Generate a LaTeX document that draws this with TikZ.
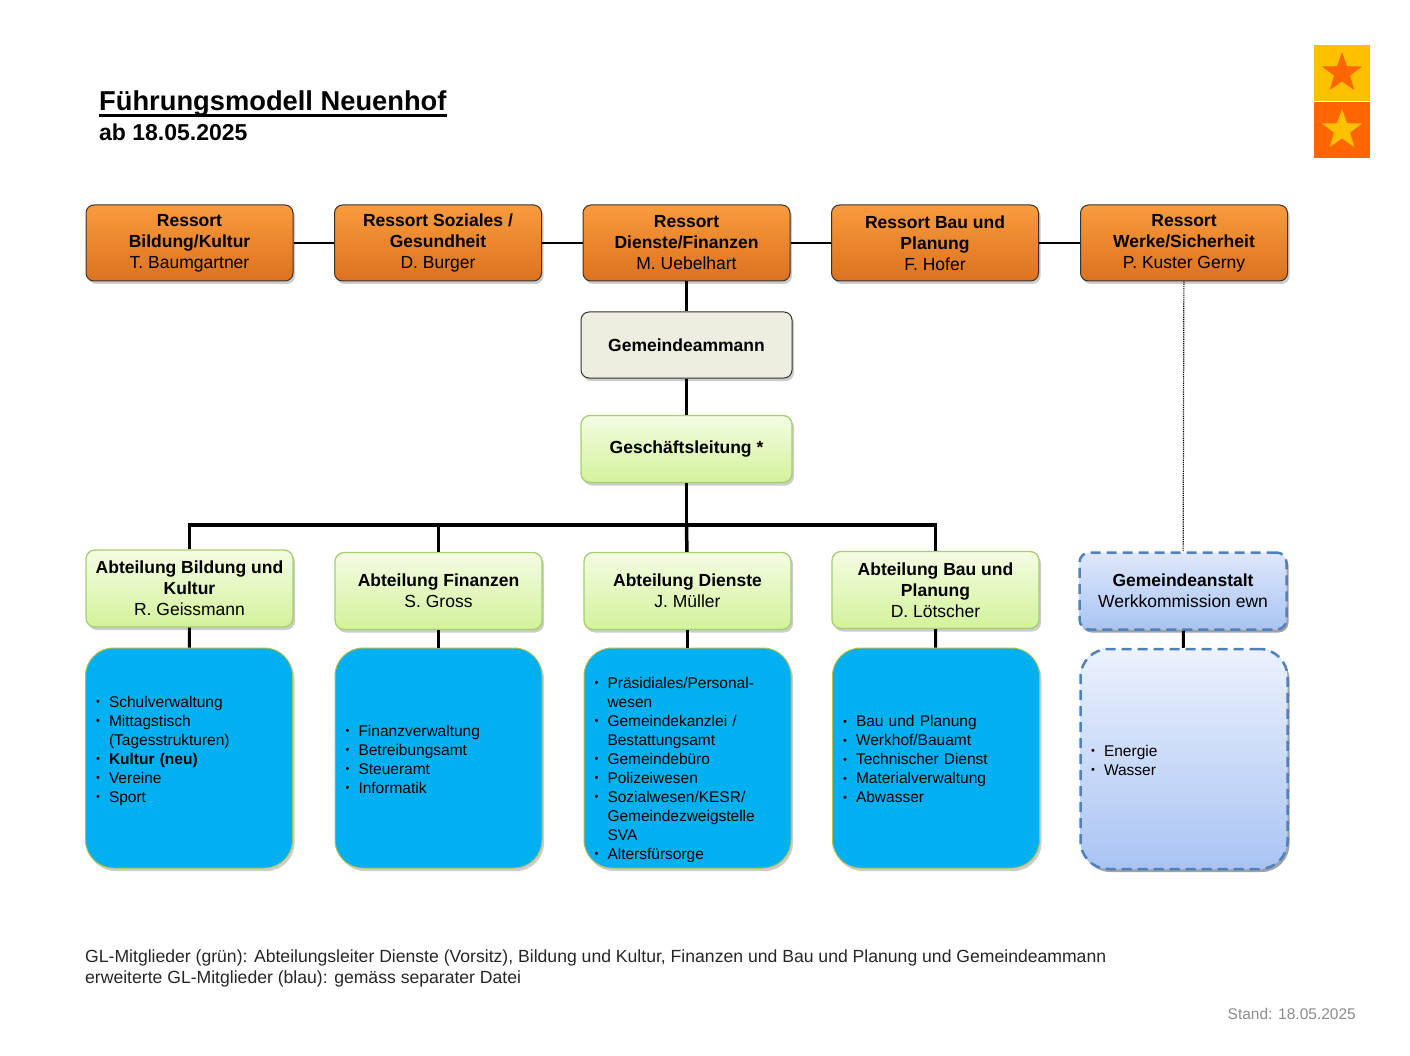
\documentclass[tikz,border=0pt]{standalone}
\usepackage{fontspec}
\setmainfont{Liberation Sans}
\usetikzlibrary{shapes.geometric,shadows}

\definecolor{orangetop}{HTML}{F99B3C}
\definecolor{orangebot}{HTML}{DB7220}
\definecolor{greentop}{HTML}{F4FCE3}
\definecolor{greenbot}{HTML}{D3F29A}
\definecolor{greenline}{HTML}{A3CF6F}
\definecolor{cyanfill}{HTML}{00B0F0}
\definecolor{cyanline}{HTML}{AEBF55}
\definecolor{ewntop}{HTML}{DFE8FB}
\definecolor{ewnbot}{HTML}{A9C4F3}
\definecolor{ewnline}{HTML}{4F81BD}
\definecolor{ammannfill}{HTML}{EDEEE0}
\definecolor{logoyellow}{HTML}{FFC000}
\definecolor{logoorange}{HTML}{FF6600}

\newenvironment{aufgaben}{%
  \begin{list}{\raisebox{1.5pt}{\fontsize{11}{11}\selectfont\textbullet}}{%
    \setlength{\leftmargin}{15pt}\setlength{\labelsep}{9pt}\setlength{\labelwidth}{6pt}%
    \setlength{\itemsep}{0pt}\setlength{\parsep}{0pt}\setlength{\topsep}{0pt}%
    \setlength{\partopsep}{0pt}}}{\end{list}\vspace*{5pt}\hrule height 0pt}
\newcommand{\luft}[1]{\vspace*{#1}\hrule height 0pt}

\tikzset{
  fuehrung/.style={
    every node/.style={font=\fontsize{17.5}{21}\selectfont, align=center},
    box shadow/.style={drop shadow={shadow xshift=2pt, shadow yshift=-3pt, opacity=0.2, fill=black}},
    ressort/.style={
        rounded corners=8pt,
        draw=black!80,
        line width=1pt,
        top color=orangetop,
        bottom color=orangebot,
        minimum width=207pt,
        minimum height=76pt,
        inner sep=2pt,
        box shadow,
    },
    abteilung/.style={
        rounded corners=9pt,
        draw=greenline,
        line width=1.3pt,
        top color=greentop,
        bottom color=greenbot,
        minimum width=207pt,
        minimum height=77pt,
        inner sep=2pt,
        box shadow,
    },
    aufgabe/.style={
        rounded corners=28pt,
        draw=cyanline,
        line width=1pt,
        fill=cyanfill,
        minimum width=207pt,
        minimum height=220pt,
        text width=190pt,
        inner xsep=8pt,
        align=left,
        font=\fontsize{15.5}{19}\selectfont,
        box shadow,
    },
    ewn/.style={
        draw=ewnline,
        line width=2.5pt,
        dash pattern=on 10pt off 6pt,
        top color=ewntop,
        bottom color=ewnbot,
        box shadow,
    },
    link/.style={line width=2pt},
    bus/.style={line width=3.5pt}
  }
}

\begin{document}
\begin{tikzpicture}[x=1pt, y=-1pt, fuehrung]
            \useasboundingbox (0,0) rectangle (1410,1056);
            \tikzstyle{logo}=[rectangle, minimum size=56pt, inner sep=0pt]
            \tikzstyle{stern}=[star, star points=5, star point ratio=2.5, minimum size=42pt, inner sep=0pt]

            \node[anchor=base west, inner sep=0pt, font=\fontsize{27.3}{32}\bfseries\selectfont] (titel) at (99,111) {Führungsmodell Neuenhof};
            \node[anchor=base west, inner sep=0pt, font=\fontsize{23}{28}\bfseries\selectfont] (datum) at (99,141) {ab 18.05.2025};
            \draw[line width=2.3pt] ([yshift=-4.5pt]titel.base west) -- ([yshift=-4.5pt]titel.base east);

            \node[logo, fill=logoyellow] (L_1) at (1342,73) {};
            \node[logo, fill=logoorange] (L_2) at (1342,130) {};
            \node[stern, fill=logoorange] (S_1) at (L_1) {};
            \node[stern, fill=logoyellow] (S_2) at (L_2) {};

            \node[ressort] (R_1) at (189.5,243) {\textbf{Ressort}\\\textbf{Bildung/Kultur}\\T. Baumgartner};
            \node[ressort] (R_2) at (438,243) {\textbf{Ressort Soziales /}\\\textbf{Gesundheit}\\D. Burger};
            \node[ressort] (R_3) at (686.5,243) {\textbf{Ressort}\\\textbf{Dienste/Finanzen}\\M. Uebelhart};
            \node[ressort] (R_4) at (935,243) {\textbf{Ressort Bau und}\\\textbf{Planung}\\F. Hofer};
            \node[ressort] (R_5) at (1184,243) {\textbf{Ressort}\\\textbf{Werke/Sicherheit}\\P. Kuster Gerny};

            \node[rounded corners=8pt, draw=black!80, line width=1pt, fill=ammannfill, minimum width=211pt, minimum height=66pt, box shadow] (GA) at (686.5,345) {\textbf{Gemeindeammann}};
            \node[abteilung, minimum width=211pt, minimum height=67pt] (GL) at (686.5,449) {\textbf{Geschäftsleitung *}};
            \coordinate (bus) at (686.5,525);

            \node[abteilung] (A_1) at (189.5,588.5) {\textbf{Abteilung Bildung und}\\\textbf{Kultur}\\R. Geissmann};
            \node[abteilung] (A_2) at (438.5,591) {\textbf{Abteilung Finanzen}\\S. Gross};
            \node[abteilung] (A_3) at (687.5,591) {\textbf{Abteilung Dienste}\\J. Müller};
            \node[abteilung] (A_4) at (935.5,590) {\textbf{Abteilung Bau und}\\\textbf{Planung}\\D. Lötscher};
            \node[abteilung, ewn, rounded corners=10pt] (A_5) at (1183,591) {\textbf{Gemeindeanstalt}\\Werkkommission ewn};

            \node[aufgabe] (B_1) at (189,758) {\begin{aufgaben}
                \item Schulverwaltung
                \item Mittagstisch\\(Tagesstrukturen)
                \item \textbf{Kultur (neu)}
                \item Vereine
                \item Sport
              \end{aufgaben}\luft{17pt}};
            \node[aufgabe] (B_2) at (438.5,758) {\begin{aufgaben}
                \item Finanzverwaltung
                \item Betreibungsamt
                \item Steueramt
                \item Informatik
              \end{aufgaben}};
            \node[aufgabe] (B_3) at (687.5,758) {\begin{aufgaben}
                \item Präsidiales/Personal-\\wesen
                \item Gemeindekanzlei /\\Bestattungsamt
                \item Gemeindebüro
                \item Polizeiwesen
                \item Sozialwesen/KESR/\\Gemeindezweigstelle\\SVA
                \item Altersfürsorge
              \end{aufgaben}\luft{-21pt}};
            \node[aufgabe] (B_4) at (936,758) {\begin{aufgaben}
                \item Bau und Planung
                \item Werkhof/Bauamt
                \item Technischer Dienst
                \item Materialverwaltung
                \item Abwasser
              \end{aufgaben}};
            \node[aufgabe, ewn, top color=ewntop!60, rounded corners=28pt] (B_5) at (1184,759) {\begin{aufgaben}
                \item Energie
                \item Wasser
              \end{aufgaben}};

            \node[anchor=north west, inner sep=0pt, align=left, text=black!85, font=\fontsize{17.6}{21}\selectfont] (fuss) at (85,950) {GL-Mitglieder (grün): Abteilungsleiter Dienste (Vorsitz), Bildung und Kultur, Finanzen und Bau und Planung und Gemeindeammann\\erweiterte GL-Mitglieder (blau): gemäss separater Datei};
            \node[anchor=base east, inner sep=0pt, text=black!45, font=\fontsize{15.5}{19}\selectfont] (stand) at (1356,1019) {Stand: 18.05.2025};

            \draw[link] (R_1) -- (R_2) -- (R_3) -- (R_4) -- (R_5);
            \draw[bus] (R_3) -- (GA) -- (GL) -- (bus);
            \draw[bus] (A_1) |- (bus) -| (A_4);
            \draw[bus] (A_2) -- (A_2 |- bus);
            \draw[bus] (A_3) -- (bus);
            \draw[densely dotted, line width=1.2pt] (R_5) -- (A_5);
            \draw[line width=3pt] (A_1) -- (B_1);
            \draw[line width=3pt] (A_2) -- (B_2);
            \draw[line width=3pt] (A_3) -- (B_3);
            \draw[line width=3pt] (A_4) -- (B_4);
            \draw[line width=3pt] (A_5) -- (B_5);
        \end{tikzpicture}
\end{document}
